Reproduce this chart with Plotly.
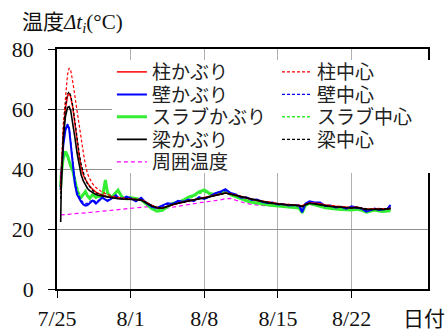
import plotly.graph_objects as go

# elapsed days since 7/25 (shared by every series)
days = [0.35, 0.4, 0.6, 0.8, 1.0, 1.15, 1.3, 1.5, 1.7, 1.9,
        2.1, 2.3, 2.5, 2.7, 2.9, 3.1, 3.4, 3.7, 4.0, 4.3,
        4.6, 4.8, 5.2, 5.6, 5.8, 6.2, 6.6, 7.0,
        7.5, 8.0, 8.5, 9.0, 9.5, 10.0, 10.5, 11.0, 11.5, 12.0,
        12.5, 13.0, 13.5, 14.0, 14.5, 15.0, 15.5, 16.0, 16.5, 17.0,
        17.5, 18.0, 18.5, 19.0, 19.5, 20.0, 20.5, 21.0, 21.5, 22.0,
        22.5, 23.0, 23.3, 23.6, 24.0, 24.5, 25.0, 25.5, 26.0, 26.5,
        27.0, 27.5, 28.0, 28.5, 29.0, 29.4, 29.8, 30.2, 30.6, 31.0,
        31.4, 31.7]

tick_days = [0, 7, 14, 21, 28]
tick_labels = ["7/25", "8/1", "8/8", "8/15", "8/22"]

col_cover = [33.0, 38.0, 52.0, 60.0, 64.3, 65.2, 64.0, 60.5, 55.0, 49.5,
             44.5, 40.5, 38.0, 36.5, 35.2, 34.3, 33.2, 32.3, 31.8, 31.3,
             31.0, 30.8, 30.5, 30.3, 30.2, 30.2, 30.1, 30.0,
             29.8, 29.7, 28.8, 27.8, 27.2, 26.9, 27.6, 28.2, 28.6, 29.0,
             29.4, 29.8, 30.2, 30.5, 31.0, 31.3, 31.7, 32.0, 31.7, 31.2,
             30.8, 30.3, 29.9, 29.5, 29.2, 28.9, 28.6, 28.4, 28.2, 28.2,
             28.1, 27.9, 27.7, 28.2, 28.7, 28.6, 28.4, 27.9, 27.6, 27.5,
             27.3, 27.1, 27.1, 27.3, 26.9, 26.5, 26.6, 26.7, 26.8, 26.6,
             26.8, 26.9]

col_center = [33.0, 40.0, 55.0, 64.5, 71.5, 73.6, 73.0, 69.0, 64.0, 59.5,
              55.0, 50.0, 45.5, 41.5, 38.5, 36.8, 35.0, 33.8, 33.0, 32.3,
              31.8, 31.5, 31.0, 30.6, 30.5, 30.3, 30.2, 30.0,
              30.0, 29.8, 29.0, 28.0, 27.3, 27.0, 27.5, 28.1, 28.5, 28.9,
              29.3, 29.6, 30.0, 30.4, 30.9, 31.2, 31.6, 31.9, 31.8, 31.3,
              30.9, 30.4, 30.0, 29.6, 29.3, 29.0, 28.7, 28.5, 28.3, 28.2,
              28.1, 28.0, 27.8, 28.1, 28.6, 28.5, 28.3, 27.9, 27.7, 27.6,
              27.4, 27.2, 27.1, 27.2, 26.9, 26.6, 26.7, 26.7, 26.7, 26.6,
              26.7, 26.8]

wall_cover = [33.0, 38.0, 48.0, 53.0, 54.7, 53.5, 48.5, 41.0, 35.0, 31.5,
              30.0, 29.0, 28.2, 27.8, 28.0, 28.5, 29.5, 28.5, 29.5, 30.5,
              29.8, 29.3, 30.2, 31.2, 30.5, 30.0, 30.8, 30.3,
              29.2, 30.4, 28.6, 27.4, 27.0, 27.8, 28.6, 28.3, 29.4, 29.0,
              29.8, 29.3, 30.6, 30.0, 30.8, 31.9, 32.4, 33.3, 32.0, 31.5,
              30.4, 30.6, 29.7, 29.8, 29.1, 28.7, 28.8, 28.2, 28.3, 27.8,
              28.0, 27.8, 25.6, 28.4, 29.2, 28.8, 28.8, 27.7, 27.8, 27.2,
              27.4, 26.8, 27.6, 27.1, 26.7, 25.8, 26.4, 26.8, 26.3, 26.5,
              26.7, 28.0]

wall_center = [33.0, 38.5, 48.5, 53.5, 55.0, 54.0, 49.5, 42.5, 36.5, 32.5,
               30.8, 29.6, 28.8, 28.4, 28.6, 29.0, 29.8, 29.0, 29.8, 30.4,
               30.0, 29.6, 30.3, 30.9, 30.4, 30.1, 30.6, 30.2,
               29.6, 30.0, 28.8, 27.6, 27.1, 27.4, 28.2, 28.6, 29.0, 29.2,
               29.6, 29.6, 30.3, 30.2, 30.9, 31.6, 32.1, 32.8, 32.0, 31.3,
               30.6, 30.4, 29.8, 29.6, 29.2, 28.8, 28.7, 28.3, 28.2, 28.0,
               28.0, 27.8, 26.3, 28.2, 29.0, 28.6, 28.5, 27.8, 27.7, 27.3,
               27.3, 27.0, 27.3, 27.1, 26.8, 26.1, 26.5, 26.7, 26.5, 26.5,
               26.6, 27.4]

slab_cover = [34.0, 38.0, 44.0, 45.8, 44.5, 42.5, 41.0, 39.5, 36.0, 33.0,
              31.0, 30.5, 31.5, 32.5, 31.0, 30.2, 31.5, 30.5, 31.0, 30.5,
              36.3, 32.0, 30.5, 32.2, 33.0, 30.5, 30.0, 30.5,
              30.2, 29.8, 28.3, 26.8, 25.9, 26.2, 27.4, 28.5, 28.9, 29.6,
              30.6, 31.2, 32.4, 33.0, 31.8, 31.5, 32.2, 32.8, 31.4, 30.7,
              30.0, 29.4, 28.9, 28.7, 28.3, 28.1, 27.8, 27.6, 27.4, 27.3,
              27.2, 27.0, 25.4, 27.9, 28.6, 28.0, 27.6, 27.1, 26.8, 26.7,
              26.5, 26.4, 26.3, 26.6, 26.2, 25.6, 25.9, 26.3, 26.0, 25.8,
              26.0, 26.1]

slab_center = [33.5, 37.5, 43.0, 45.0, 44.0, 42.0, 40.5, 39.0, 36.5, 33.8,
               32.0, 31.2, 31.8, 32.4, 31.4, 30.6, 31.6, 30.8, 31.2, 30.8,
               34.5, 32.2, 30.8, 31.8, 32.4, 30.8, 30.3, 30.6,
               30.0, 29.8, 28.6, 27.2, 26.4, 26.5, 27.4, 28.3, 28.7, 29.4,
               30.2, 30.8, 31.8, 32.4, 31.6, 31.4, 32.0, 32.5, 31.5, 30.8,
               30.2, 29.7, 29.2, 28.9, 28.5, 28.3, 28.0, 27.8, 27.6, 27.5,
               27.4, 27.3, 26.2, 27.8, 28.5, 28.1, 27.8, 27.3, 27.0, 26.9,
               26.8, 26.6, 26.5, 26.7, 26.4, 25.9, 26.1, 26.4, 26.2, 26.0,
               26.2, 26.3]

beam_cover = [22.3, 33.0, 50.0, 57.5, 60.5, 60.8, 59.5, 55.5, 50.5, 45.5,
              41.0, 38.0, 36.0, 34.5, 33.5, 32.8, 32.0, 31.5, 31.2, 31.0,
              30.8, 30.6, 30.3, 30.2, 30.1, 30.0, 30.0, 29.9,
              29.8, 29.6, 28.7, 27.7, 27.1, 26.9, 27.5, 28.2, 28.6, 29.0,
              29.4, 29.7, 30.1, 30.3, 30.8, 31.2, 31.6, 32.0, 31.6, 31.1,
              30.7, 30.2, 29.8, 29.4, 29.1, 28.8, 28.5, 28.3, 28.1, 28.0,
              28.0, 27.8, 27.4, 28.1, 28.6, 28.4, 28.2, 27.8, 27.5, 27.4,
              27.2, 27.0, 27.0, 27.2, 26.8, 26.5, 26.5, 26.6, 26.6, 26.5,
              26.7, 26.8]

beam_center = [30.0, 37.0, 52.0, 61.0, 65.0, 65.8, 64.5, 61.0, 56.0, 50.5,
               45.5, 41.5, 38.5, 36.5, 35.0, 34.0, 32.8, 32.0, 31.5, 31.2,
               30.8, 30.7, 30.5, 30.3, 30.2, 30.1, 30.1, 30.0,
               29.9, 29.7, 28.9, 27.9, 27.2, 27.0, 27.6, 28.2, 28.5, 28.9,
               29.3, 29.6, 30.0, 30.4, 30.9, 31.2, 31.5, 31.9, 31.7, 31.2,
               30.8, 30.3, 29.9, 29.5, 29.2, 28.9, 28.6, 28.4, 28.2, 28.1,
               28.0, 27.9, 27.6, 28.0, 28.5, 28.5, 28.3, 27.9, 27.6, 27.5,
               27.3, 27.1, 27.0, 27.2, 26.9, 26.6, 26.6, 26.7, 26.7, 26.6,
               26.7, 26.9]

ambient = [24.7, 24.7, 24.8, 24.8, 24.9, 24.9, 25.0, 25.0, 25.1, 25.1,
           25.2, 25.3, 25.3, 25.4, 25.5, 25.5, 25.6, 25.7, 25.9, 26.0,
           26.1, 26.2, 26.3, 26.5, 26.5, 26.6, 26.8, 27.0,
           27.1, 27.3, 27.4, 27.3, 27.0, 26.8, 27.0, 27.3, 27.6, 28.0,
           28.3, 28.5, 28.8, 29.0, 29.2, 29.4, 29.7, 30.1, 30.2, 29.6,
           29.0, 28.5, 28.2, 28.0, 27.9, 27.7, 27.8, 28.0, 28.0, 27.9,
           27.8, 27.6, 27.5, 27.8, 28.1, 28.0, 27.8, 27.5, 27.3, 27.2,
           27.0, 26.9, 26.9, 27.0, 26.7, 26.3, 26.4, 26.5, 26.5, 26.3,
           26.5, 26.6]

RED, BLUE, GREEN, BLACK, MAGENTA = "#ff0000", "#0000ff", "#33ee33", "#000000", "#ff00ff"
SHORT_DASH = "3px,2px"

# (values, name, color, width, dash, legend id, column, row) in drawing order
series = [
    (ambient, "周囲温度", MAGENTA, 1.2, "4px,3px", "legend5", 0, 4),
    (slab_cover, "スラブかぶり", GREEN, 3.0, "solid", "legend3", 0, 2),
    (slab_center, "スラブ中心", GREEN, 1.5, SHORT_DASH, "legend8", 1, 2),
    (wall_cover, "壁かぶり", BLUE, 2.0, "solid", "legend2", 0, 1),
    (wall_center, "壁中心", BLUE, 1.2, SHORT_DASH, "legend7", 1, 1),
    (col_cover, "柱かぶり", RED, 1.5, "solid", "legend", 0, 0),
    (col_center, "柱中心", RED, 1.2, SHORT_DASH, "legend6", 1, 0),
    (beam_cover, "梁かぶり", BLACK, 1.6, "solid", "legend4", 0, 3),
    (beam_center, "梁中心", BLACK, 1.2, SHORT_DASH, "legend9", 1, 3),
]

fig = go.Figure()
for vals, name, color, width, dash, leg, col, row in series:
    fig.add_trace(go.Scatter(
        x=days, y=vals, mode="lines", name=name,
        line=dict(color=color, width=width, dash=dash),
        legend=leg, showlegend=True,
    ))

SERIF = "Liberation Serif, Times New Roman, Noto Sans CJK JP"
W, H = 446, 329
ML, MR, MT, MB = 57, 18, 49, 40

# one single-entry legend per series, laid out as a two-column key
legend_font = dict(family="Noto Sans CJK JP", size=19, color="#222222")
legend_cols = [0.148, 0.593]
legend_rows = [0.904, 0.810, 0.717, 0.623, 0.529]
legend_layout = {}
for vals, name, color, width, dash, leg, col, row in series:
    legend_layout[leg] = dict(
        x=legend_cols[col], y=legend_rows[row], xanchor="left", yanchor="middle",
        bgcolor="rgba(0,0,0,0)", font=legend_font, borderwidth=0,
    )

fig.update_layout(
    width=W, height=H, showlegend=True,
    margin=dict(l=ML, r=MR, t=MT, b=MB, pad=0),
    paper_bgcolor="white", plot_bgcolor="white",
    font=dict(family=SERIF, size=22, color="#111111"),
    xaxis=dict(
        range=[0, 35.26], tickmode="array", tickvals=tick_days, ticktext=tick_labels,
        showgrid=True, gridcolor="#b0b0b0", gridwidth=1,
        ticks="outside", ticklen=7, tickcolor="#000", tickwidth=1,
        showline=True, linecolor="#000", linewidth=1.5, mirror=True,
        zeroline=False, ticklabelstandoff=2, automargin=False,
    ),
    yaxis=dict(
        range=[0, 80], tickmode="linear", tick0=0, dtick=20,
        showgrid=True, gridcolor="#909090", gridwidth=1,
        ticks="outside", ticklen=7, tickcolor="#000", tickwidth=1,
        showline=True, linecolor="#000", linewidth=1.5, mirror=True,
        zeroline=False, ticklabelstandoff=10, automargin=False,
    ),
    # white key panel behind the legend entries (hides grid and frame there)
    shapes=[
        dict(type="rect", xref="paper", yref="paper",
             x0=0.148, x1=1.01, y0=0.483, y1=0.954,
             fillcolor="white", line=dict(width=0), layer="above"),
    ],
    annotations=[
        dict(text="温度<i>Δt<sub>i</sub></i>(°C)", xref="paper", yref="paper",
             x=-0.1, y=1.11, xanchor="left", yanchor="middle", showarrow=False,
             font=dict(family=SERIF, size=21, color="#111111")),
        dict(text="日付", xref="paper", yref="paper",
             x=0.99, y=-0.125, xanchor="center", yanchor="middle", showarrow=False,
             font=dict(family=SERIF, size=21, color="#111111")),
    ],
    **legend_layout,
)

fig.write_html("out.html")
